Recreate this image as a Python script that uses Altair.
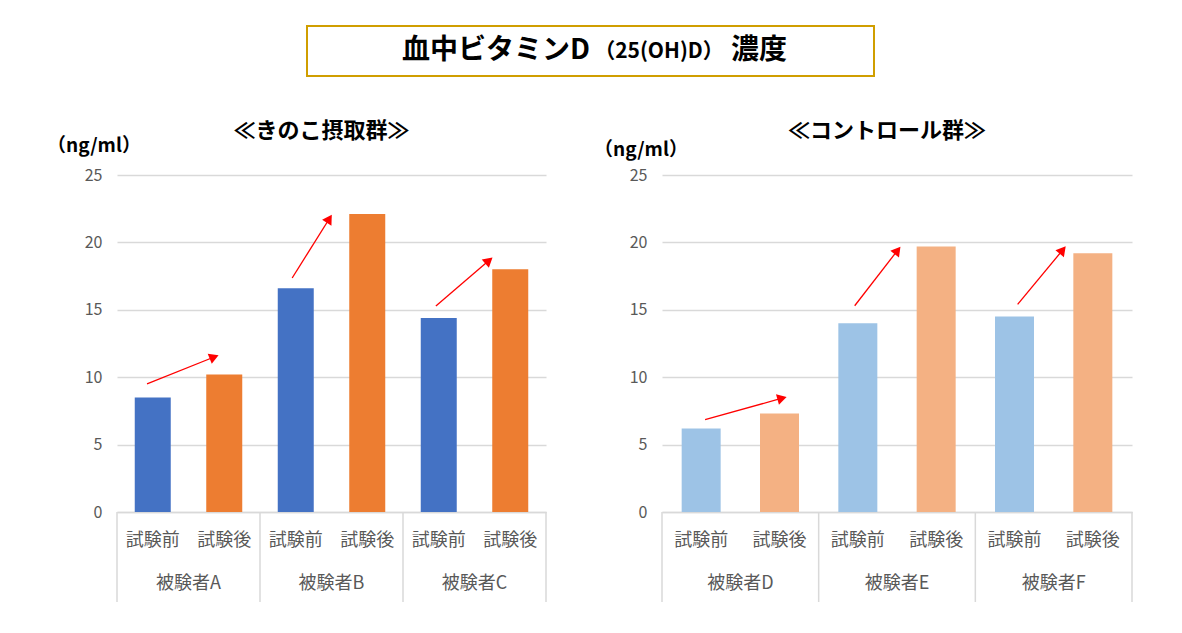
import math
import altair as alt
import pandas as pd

FONT = "Noto Sans CJK JP"

# ---- text ----
main_title_parts = ["血中ビタミンD", "（25(OH)D）", "濃度"]
left_title = "≪きのこ摂取群≫"
right_title = "≪コントロール群≫"
unit_label = "（ng/ml）"
conditions = ["試験前", "試験後"]
y_ticks = [0, 5, 10, 15, 20, 25]

# ---- data ----
left_subjects = ["被験者A", "被験者B", "被験者C"]
left_before = [8.5, 16.6, 14.4]
left_after = [10.2, 22.1, 18.0]

right_subjects = ["被験者D", "被験者E", "被験者F"]
right_before = [6.2, 14.0, 14.5]
right_after = [7.3, 19.7, 19.2]

# arrows (data units: x = bar index, y = ng/ml)
left_arrow_x0 = [-0.08, 1.95, 3.96]
left_arrow_y0 = [9.5, 17.36, 15.28]
left_arrow_x1 = [0.93, 2.51, 4.76]
left_arrow_y1 = [11.65, 22.1, 18.92]

right_arrow_x0 = [0.05, 1.96, 4.04]
right_arrow_y0 = [6.85, 15.3, 15.4]
right_arrow_x1 = [1.1, 2.55, 4.66]
right_arrow_y1 = [8.55, 19.73, 19.75]

left_colors = ["#4472C4", "#ED7D31"]
right_colors = ["#9DC3E6", "#F4B183"]

H = 337
GRAY = "#d9d9d9"
TXT = "#595959"


def panel(subjects, before, after, colors, ax0, ay0, ax1, ay1, W, title, bar_size, unit_dx, unit_dy):
    rows = []
    for i, s in enumerate(subjects):
        for j, v in enumerate([before[i], after[i]]):
            rows.append({"pos": 2 * i + j, "subject": s, "cond": conditions[j],
                         "value": v, "color": colors[j]})
    df = pd.DataFrame(rows)
    subj_df = pd.DataFrame({"pos": [2 * i + 0.5 for i in range(len(subjects))], "subject": subjects})
    sep_df = pd.DataFrame({"pos": [2 * i - 0.5 for i in range(len(subjects) + 1)]})

    kx = W / 6.0
    ky = H / 25.0
    arr = []
    for x0, y0, x1, y1 in zip(ax0, ay0, ax1, ay1):
        dxp = (x1 - x0) * kx
        dyp = (y1 - y0) * ky
        L = math.hypot(dxp, dyp)
        ang = math.degrees(math.atan2(dxp, dyp)) % 360
        hx = x1 - 5.5 * dxp / L / kx
        hy = y1 - 5.5 * dyp / L / ky
        arr.append({"x0": x0, "y0": y0, "hx": hx, "hy": hy, "angle": ang})
    adf = pd.DataFrame(arr)

    xs = alt.Scale(domain=[-0.5, 5.5], nice=False, zero=False, padding=0)
    ys = alt.Scale(domain=[0, 25], nice=False, zero=True)
    x_axis = alt.Axis(labels=False, ticks=False, grid=False, title=None,
                      domainColor=GRAY, domainWidth=1.5)
    y_axis = alt.Axis(values=y_ticks, grid=True, gridColor=GRAY, gridWidth=1.5,
                      domain=False, ticks=False, labelPadding=15, labelFontSize=16,
                      labelColor=TXT, title=None, labelFont=FONT)

    def X(f):
        return alt.X(f, scale=xs, axis=x_axis)

    def Y(f):
        return alt.Y(f, scale=ys, axis=y_axis)

    bars = alt.Chart(df).mark_bar(size=bar_size).encode(
        x=X("pos:Q"), y=Y("value:Q"), color=alt.Color("color:N", scale=None)
    )
    lines = alt.Chart(adf).mark_rule(color="#FF0000", strokeWidth=1.3).encode(
        x=X("x0:Q"), y=Y("y0:Q"), x2="hx:Q", y2="hy:Q"
    )
    heads = alt.Chart(adf).mark_point(shape="triangle-up", filled=True, size=120,
                                      color="#FF0000", opacity=1).encode(
        x=X("hx:Q"), y=Y("hy:Q"), angle=alt.Angle("angle:Q", scale=None)
    )
    cond_text = alt.Chart(df).mark_text(fontSize=18, color=TXT, font=FONT).encode(
        x=X("pos:Q"), y=alt.value(H + 29), text="cond:N"
    )
    subj_text = alt.Chart(subj_df).mark_text(fontSize=18, color=TXT, font=FONT).encode(
        x=X("pos:Q"), y=alt.value(H + 72), text="subject:N"
    )
    seps = alt.Chart(sep_df).mark_rule(color=GRAY, strokeWidth=1.5).encode(
        x=X("pos:Q"), y=alt.value(H), y2=alt.value(H + 90)
    )
    ttl = alt.Chart(alt.Data(values=[{"t": title}])).mark_text(
        fontSize=22, fontWeight="bold", color="#000000", font=FONT).encode(
        x=alt.value(W / 2 - 10), y=alt.value(-44), text="t:N"
    )
    unit = alt.Chart(alt.Data(values=[{"t": unit_label}])).mark_text(
        fontSize=19, fontWeight="bold", color="#000000", align="left", font=FONT).encode(
        x=alt.value(unit_dx), y=alt.value(unit_dy), text="t:N"
    )
    return alt.layer(seps, bars, lines, heads, cond_text, subj_text, ttl, unit).properties(
        width=W, height=H
    )


LW, RW, GAP = 429, 470, 47
left = panel(left_subjects, left_before, left_after, left_colors,
             left_arrow_x0, left_arrow_y0, left_arrow_x1, left_arrow_y1,
             LW, left_title, 36, -70, -29)
right = panel(right_subjects, right_before, right_after, right_colors,
              right_arrow_x0, right_arrow_y0, right_arrow_x1, right_arrow_y1,
              RW, right_title, 39, -68, -25)

# title chart origin lines up with the left plot's origin
TW = LW + GAP + 68 + RW
box = alt.Chart(alt.Data(values=[{"t": ""}])).mark_rect(
    fillOpacity=0, stroke="#D09E00", strokeWidth=2).encode(
    x=alt.value(190), x2=alt.value(757), y=alt.value(0), y2=alt.value(50))
t1 = alt.Chart(alt.Data(values=[{"t": main_title_parts[0]}])).mark_text(
    fontSize=28, fontWeight="bold", align="right", color="#000000", font=FONT).encode(
    x=alt.value(473), y=alt.value(25), text="t:N")
t2 = alt.Chart(alt.Data(values=[{"t": main_title_parts[1]}])).mark_text(
    fontSize=21, fontWeight="bold", align="center", color="#000000", font=FONT).encode(
    x=alt.value(542), y=alt.value(26), text="t:N")
t3 = alt.Chart(alt.Data(values=[{"t": main_title_parts[2]}])).mark_text(
    fontSize=28, fontWeight="bold", align="left", color="#000000", font=FONT).encode(
    x=alt.value(614), y=alt.value(25), text="t:N")
title_chart = alt.layer(box, t1, t2, t3).properties(width=TW, height=50)

chart = alt.vconcat(
    title_chart,
    alt.hconcat(left, right, spacing=GAP),
    spacing=43,
).properties(
    padding={"left": 39, "top": 17, "right": 5, "bottom": 5}
).configure(font=FONT).configure_view(stroke=None)

chart.save("out.html", embed_options={"renderer": "svg", "actions": False})
